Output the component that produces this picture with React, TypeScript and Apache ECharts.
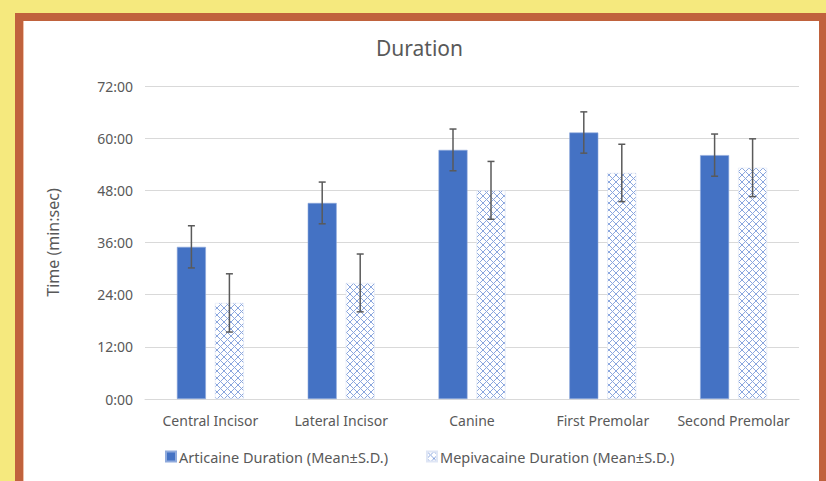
import React, { useEffect, useRef } from "react";
import * as echarts from "echarts";

const categories = ["Central Incisor", "Lateral Incisor", "Canine", "First Premolar", "Second Premolar"];
const articaineMean = [35.0, 45.1, 57.3, 61.3, 56.1];
const articaineSD = [4.85, 4.8, 4.8, 4.75, 4.85];
const mepivacaineMean = [22.1, 26.7, 48.0, 52.0, 53.2];
const mepivacaineSD = [6.7, 6.65, 6.65, 6.6, 6.65];
const yTicks = ["0:00", "12:00", "24:00", "36:00", "48:00", "60:00", "72:00"];

const BAR_W = 29;
const BAR_GAP = 9;
const FONT = "'Noto Sans', 'Open Sans', sans-serif";
const TXT = "#595959";

function makePattern() {
  const s = 7;
  const c = document.createElement("canvas");
  c.width = s;
  c.height = s;
  const ctx = c.getContext("2d")!;
  ctx.fillStyle = "#ffffff";
  ctx.fillRect(0, 0, s, s);
  ctx.strokeStyle = "#8aa6de";
  ctx.lineWidth = 1;
  ctx.beginPath();
  ctx.moveTo(0, 0);
  ctx.lineTo(s, s);
  ctx.moveTo(s, 0);
  ctx.lineTo(0, s);
  ctx.stroke();
  return { image: c, repeat: "repeat", imageWidth: s, imageHeight: s } as any;
}

function errorSeries(name: string, means: number[], sds: number[], side: number) {
  const data = means.map((m, i) => [i, m - sds[i], m + sds[i]]);
  return {
    type: "custom",
    name: name + " err",
    z: 10,
    data,
    encode: { x: 0, y: [1, 2] },
    renderItem: (params: any, api: any) => {
      const i = api.value(0);
      const lo = api.coord([i, api.value(1)]);
      const hi = api.coord([i, api.value(2)]);
      const x = lo[0] + side * (BAR_W + BAR_GAP) / 2;
      const cap = 3.5;
      const style = { stroke: "#5a5a5a", lineWidth: 1.5 };
      return {
        type: "group",
        children: [
          { type: "line", shape: { x1: x, y1: lo[1], x2: x, y2: hi[1] }, style },
          { type: "line", shape: { x1: x - cap, y1: lo[1], x2: x + cap, y2: lo[1] }, style },
          { type: "line", shape: { x1: x - cap, y1: hi[1], x2: x + cap, y2: hi[1] }, style },
        ],
      };
    },
  };
}

export default function App() {
  const ref = useRef<HTMLDivElement>(null);
  useEffect(() => {
    document.body.style.margin = "0";
    const chart = echarts.init(ref.current!, null, { renderer: "svg" });
    const pattern = makePattern();
    chart.setOption({
      animation: false,
      title: {
        text: "Duration",
        left: 371,
        top: 32,
        textStyle: { fontFamily: FONT, fontSize: 21, fontWeight: "normal", color: TXT },
      },
      legend: {
        data: ["Articaine Duration (Mean±S.D.)", "Mepivacaine Duration (Mean±S.D.)"],
        left: 165,
        top: 449,
        padding: 0,
        itemWidth: 10,
        itemHeight: 10,
        itemGap: 38,
        icon: "rect",
        textStyle: { fontFamily: FONT, fontSize: 14.5, color: TXT, padding: [0, 0, 0, -2] },
      },
      grid: { left: 145, right: 27, top: 86, bottom: 82, containLabel: false },
      xAxis: {
        type: "category",
        data: categories,
        axisLine: { lineStyle: { color: "#d9d9d9", width: 1 } },
        axisTick: { show: false },
        axisLabel: { fontFamily: FONT, fontSize: 14, color: TXT, margin: 14, interval: 0 },
      },
      yAxis: {
        type: "value",
        min: 0,
        max: 72,
        interval: 12,
        name: "Time (min:sec)",
        nameLocation: "middle",
        nameGap: 84,
        nameTextStyle: { fontFamily: FONT, fontSize: 16, color: TXT },
        axisLine: { show: false },
        axisTick: { show: false },
        splitLine: { lineStyle: { color: "#d9d9d9", width: 1 } },
        axisLabel: {
          fontFamily: FONT,
          fontSize: 14,
          color: TXT,
          margin: 12,
          formatter: (v: number) => yTicks[Math.round(v / 12)] ?? "",
        },
      },
      series: [
        {
          type: "bar",
          name: "Articaine Duration (Mean±S.D.)",
          data: articaineMean,
          barWidth: BAR_W,
          barGap: (BAR_GAP / BAR_W * 100).toFixed(1) + "%",
          itemStyle: { color: "#4472c4", borderColor: "#8faadc", borderWidth: 0.6 },
        },
        {
          type: "bar",
          name: "Mepivacaine Duration (Mean±S.D.)",
          data: mepivacaineMean,
          barWidth: BAR_W,
          itemStyle: { color: pattern, borderColor: "#dfe6f5", borderWidth: 0.6 },
        },
        errorSeries("a", articaineMean, articaineSD, -1),
        errorSeries("m", mepivacaineMean, mepivacaineSD, 1),
      ],
    });
    return () => chart.dispose();
  }, []);
  return (
    <div style={{ position: "relative", width: 826, height: 481, background: "#f5e97e", overflow: "hidden" }}>
      <div style={{ position: "absolute", left: 15, top: 13, width: 811, height: 468, background: "#c0623d" }} />
      <div style={{ position: "absolute", left: 23, top: 21, width: 796, height: 460, background: "#ffffff", borderLeft: "1px solid #f0c0a8", boxSizing: "border-box" }} />
      <div ref={ref} style={{ position: "absolute", left: 0, top: 0, width: 826, height: 481 }} />
    </div>
  );
}
